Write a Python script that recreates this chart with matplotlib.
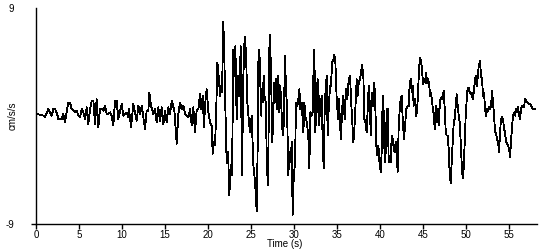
import matplotlib
matplotlib.use("Agg")
import matplotlib.pyplot as plt

# time axis (s) and ground acceleration (cm/s/s)
time_s = [
    0.00, 0.08, 0.47, 0.85, 1.05, 1.43, 1.63, 1.82, 2.02, 2.21, 2.40, 2.60, 2.79, 2.98,
    3.18, 3.37, 3.76, 3.95, 4.15, 4.34, 4.53, 4.73, 4.92, 5.12, 5.31, 5.50, 5.70, 5.89,
    6.08, 6.28, 6.47, 6.67, 6.86, 7.05, 7.25, 7.44, 7.64, 7.83, 8.02, 8.22, 8.41, 8.60,
    8.80, 8.99, 9.19, 9.38, 9.57, 9.77, 9.96, 10.16, 10.35, 10.54, 10.74,
    10.81, 11.05, 11.32, 11.51, 11.71, 11.90, 12.09, 12.29, 12.48, 12.67, 12.87, 13.06,
    13.18, 13.37, 13.64, 13.84, 14.03, 14.22, 14.42, 14.61, 14.81, 15.00, 15.19, 15.39,
    15.58, 15.78, 16.09, 16.36, 16.55, 16.74, 16.94, 17.13, 17.33, 17.52, 17.71, 17.91,
    18.10, 18.29, 18.49, 18.68, 18.88,
    19.07, 19.20, 19.38, 19.53, 19.65, 19.84, 20.04, 20.23, 20.43, 20.54, 20.70, 20.81,
    20.93, 21.09, 21.24, 21.40, 21.51, 21.63, 21.78, 21.90, 22.02, 22.17, 22.33, 22.48,
    22.64, 22.79, 22.95, 23.06, 23.18, 23.33, 23.49, 23.64, 23.80, 23.95, 24.11, 24.26,
    24.42, 24.57, 24.73, 24.88, 25.08, 25.27, 25.47, 25.66,
    25.78, 25.85, 25.97, 26.09, 26.16, 26.24, 26.36, 26.47, 26.55, 26.71, 26.82, 26.94,
    27.02, 27.09, 27.21, 27.33, 27.48, 27.60, 27.71, 27.79, 27.91, 28.02, 28.18, 28.29,
    28.41, 28.57, 28.68, 28.80, 28.95, 29.07, 29.19, 29.34, 29.46, 29.61, 29.73, 29.84,
    29.96, 30.12, 30.23, 30.39, 30.50, 30.62, 30.74, 30.89, 31.09, 31.20, 31.36, 31.51,
    31.67, 31.78, 31.90, 32.05, 32.17, 32.29,
    32.36, 32.48, 32.56, 32.64, 32.75, 32.87, 32.95, 33.10, 33.22, 33.33, 33.45, 33.57,
    33.68, 33.80, 33.91, 34.03, 34.19, 34.30, 34.42, 34.57, 34.69, 34.81, 34.96, 35.12,
    35.23, 35.35, 35.47, 35.58, 35.74, 35.89, 36.05, 36.20, 36.36, 36.51, 36.67, 36.78,
    36.90, 37.02, 37.13, 37.29, 37.40, 37.52, 37.67, 37.79, 37.91, 38.06, 38.18, 38.29,
    38.45, 38.57, 38.68,
    38.80, 38.92, 39.03, 39.19, 39.34, 39.46, 39.57, 39.69, 39.81, 39.96, 40.08, 40.19,
    40.31, 40.43, 40.54, 40.66, 40.78, 40.89, 41.01, 41.12, 41.24, 41.36, 41.47, 41.59,
    41.71, 41.82, 41.94, 42.05, 42.17, 42.29, 42.40, 42.52, 42.67, 42.79, 42.91, 43.06,
    43.22, 43.33, 43.45, 43.57, 43.68, 43.80, 43.91, 44.07, 44.19, 44.30, 44.42, 44.53,
    44.65, 44.77, 44.88, 45.00, 45.12, 45.23,
    45.35, 45.47, 45.58, 45.70, 45.81, 45.93, 46.05, 46.16, 46.28, 46.36, 46.47, 46.59,
    46.71, 46.82, 46.94, 47.05, 47.17, 47.29, 47.40, 47.52, 47.64, 47.75, 47.87, 47.98,
    48.10, 48.22, 48.33, 48.45, 48.57, 48.68, 48.80, 48.91, 49.03, 49.15, 49.26, 49.38,
    49.50, 49.61, 49.73, 49.84, 49.96, 50.08, 50.19, 50.31, 50.43, 50.54, 50.66, 50.78,
    50.89, 51.01, 51.12, 51.24, 51.36, 51.47,
    51.63, 51.74, 51.86, 51.98, 52.09, 52.21, 52.33, 52.44, 52.56, 52.67, 52.79, 52.91,
    53.02, 53.14, 53.26, 53.37, 53.49, 53.60, 53.72, 53.84, 53.95, 54.07, 54.19, 54.30,
    54.42, 54.53, 54.65, 54.77, 54.88, 55.00, 55.12, 55.23, 55.35, 55.47, 55.58, 55.70,
    55.81, 55.93, 56.05, 56.16, 56.28, 56.40, 56.51, 56.63, 56.74, 56.86, 56.98, 57.09,
    57.21, 57.33, 57.44, 57.56, 57.67, 57.79, 57.91, 58.02,
]

accel = [
    0.17, 0.17, 0.10, 0.03, -0.11, 0.58, 0.30, 0.03, 0.58, 0.58, 0.30, -0.25, -0.20, -0.25,
    0.17, -0.52, 1.13, 1.13, 0.58, 0.44, 0.35, 0.44, 0.03, -0.11, 0.58, 0.30, -0.25, 0.72,
    -0.66, 0.50, 1.27, 1.27, -0.66, 1.40, -0.94, 0.58, 0.58, 0.44, 0.85, 0.17, 0.20, 0.30,
    0.00, -0.80, 1.27, 1.27, -0.25, 0.40, 0.99, 0.03, 0.20, 0.30, -0.11,
    0.58, -0.94, 0.99, 0.30, -0.39, 0.85, 0.17, 0.85, -0.11, -1.07, 0.44, 0.44,
    1.95, 0.85, 0.17, 0.58, -0.52, 0.72, -0.39, 0.72, -0.66, 0.44, -0.52, 0.72,
    0.17, 1.27, 0.44, -2.31, 0.17, 1.13, 0.58, 0.85, 0.17, 0.03, -0.11, 0.58,
    -0.80, 0.72, -1.35, 0.44, 0.58,
    1.82, 0.58, 1.68, -0.94, 0.85, 2.23, 0.30, -0.52, -0.80, -3.14, -2.17, -2.45,
    -0.25, 4.43, 3.33, 1.68, 2.50, 1.95, 7.87, 4.71, 0.58, -3.96, -3.00, -6.58,
    -4.10, -4.93, 5.53, 3.33, 5.81, -0.25, 3.33, 1.68, 5.81, -4.93, 3.33, 6.63,
    5.26, 1.13, -0.25, -1.35, 0.03, -4.10, -5.48, -7.95,
    -2.17, 4.43, 5.53, 2.50, 0.03, 2.23, 1.13, 3.33, 1.68, 1.13, -3.00, -5.75,
    -4.38, 4.98, 6.77, 3.33, -2.17, 0.58, 2.78, 1.13, 3.06, 0.58, 3.33, 0.30,
    2.50, 0.03, -1.62, -0.80, 4.98, 2.23, 0.58, -4.93, -3.00, -3.83, -2.17, -8.23,
    -5.20, -3.83, 1.13, 0.85, 1.40, 2.23, 0.58, 1.13, -1.35, 1.13, -0.25, -0.52,
    -1.90, -4.38, 0.30, 0.03, 0.30, 4.71,
    5.53, -1.35, 0.30, 1.95, 3.06, -0.80, 1.68, 0.03, 1.68, -2.17, -4.38, 0.85,
    2.23, 3.33, -1.62, 0.58, 2.50, 2.50, 4.43, 4.71, 5.12, 4.43, 1.40, -0.25,
    1.40, -0.80, -1.90, 0.58, 1.68, -0.25, 2.23, 1.40, 3.06, 3.33, 0.85, -0.52,
    -2.17, -1.07, 0.58, 3.06, 1.68, 2.78, 3.06, 3.61, 4.29, 3.33, -0.25, -0.52,
    -1.35, 0.58, 2.50,
    1.13, -1.62, 1.95, 0.85, 2.78, 0.58, -2.45, -3.28, -2.45, -4.10, -4.65, -3.00,
    1.68, 0.30, -3.83, -3.00, 0.58, 0.58, -3.83, -3.83, -3.83, -1.62, -1.90, -2.72,
    -3.00, -2.17, -3.28, -4.65, -0.80, 0.58, 1.40, 1.68, -0.80, -1.90, -0.80, 0.58,
    0.85, 0.85, 2.78, 3.06, 1.95, 2.50, 0.85, 1.40, 0.03, 0.30, 1.95, 3.88,
    4.84, 4.57, 3.88, 2.64, 2.92, 2.78,
    3.61, 2.78, 3.06, 2.78, 1.68, 1.95, 1.13, 0.58, -0.25, -1.07, 0.85, -0.52,
    0.58, -0.80, 0.85, 1.54, 1.40, 1.68, 2.09, 0.58, -1.35, -1.62, -1.62, -2.72,
    -4.93, -5.61, -3.83, -2.17, -0.52, -0.25, 0.85, 1.82, 0.85, 0.03, -0.52, -2.17,
    -4.10, -5.20, -4.38, -2.17, 0.03, 1.40, 2.37, 2.37, 1.95, 1.82, 1.95, 1.40,
    1.95, 2.78, 3.33, 2.50, 3.19, 4.16,
    4.60, 3.33, 3.06, 1.68, 1.95, 0.58, 0.03, 0.58, 0.44, 0.72, 0.58, 0.85,
    2.09, 1.13, 0.03, -1.35, -1.49, -1.90, -2.17, -3.00, -1.35, -0.25, -0.11, -0.25,
    -1.07, -1.35, -2.17, -2.31, -2.45, -2.72, -3.41, -2.17, -0.80, 0.03, 0.30, 0.03,
    0.58, 0.30, 0.72, 0.03, -0.25, 0.58, 0.85, 0.85, 0.72, 1.40, 1.26, 1.13,
    1.13, 0.99, 0.99, 0.85, 0.72, 0.58, 0.58, 0.58,
]

x_ticks = list(range(0, 56, 5))
y_ticks = [-9, 9]

plt.rcParams['font.family'] = ['Liberation Sans', 'DejaVu Sans']
plt.rcParams['font.size'] = 7

fig = plt.figure(figsize=(5.5, 2.5), dpi=100)
ax = fig.add_axes([36 / 550, 1 - 224 / 250, 501 / 550, 216 / 250])

ax.plot(time_s, accel, color='black', lw=0.6, antialiased=False)

ax.set_xlim(0, 58.25)
ax.set_ylim(-9, 9)
ax.set_xticks(x_ticks)
ax.set_yticks(y_ticks)
ax.set_yticklabels(['-9', '9'])

ax.spines['top'].set_visible(False)
ax.spines['right'].set_visible(False)
for s in ('left', 'bottom'):
    ax.spines[s].set_linewidth(1.0)
    ax.spines[s].set_color('black')

ax.tick_params(axis='x', length=3.5, width=1, pad=0.5, labelsize=7)
ax.tick_params(axis='y', length=3.5, width=1, pad=12, labelsize=7)
ax.yaxis.get_major_ticks()[1].tick1line.set_visible(False)

ax.set_xlabel('Time (s)', fontsize=7)
ax.xaxis.set_label_coords(0.497, -0.068)
ax.set_ylabel('cm/s/s', fontsize=7)
ax.yaxis.set_label_coords(-0.036, 0.5)

fig.savefig('out.png', dpi=100)
